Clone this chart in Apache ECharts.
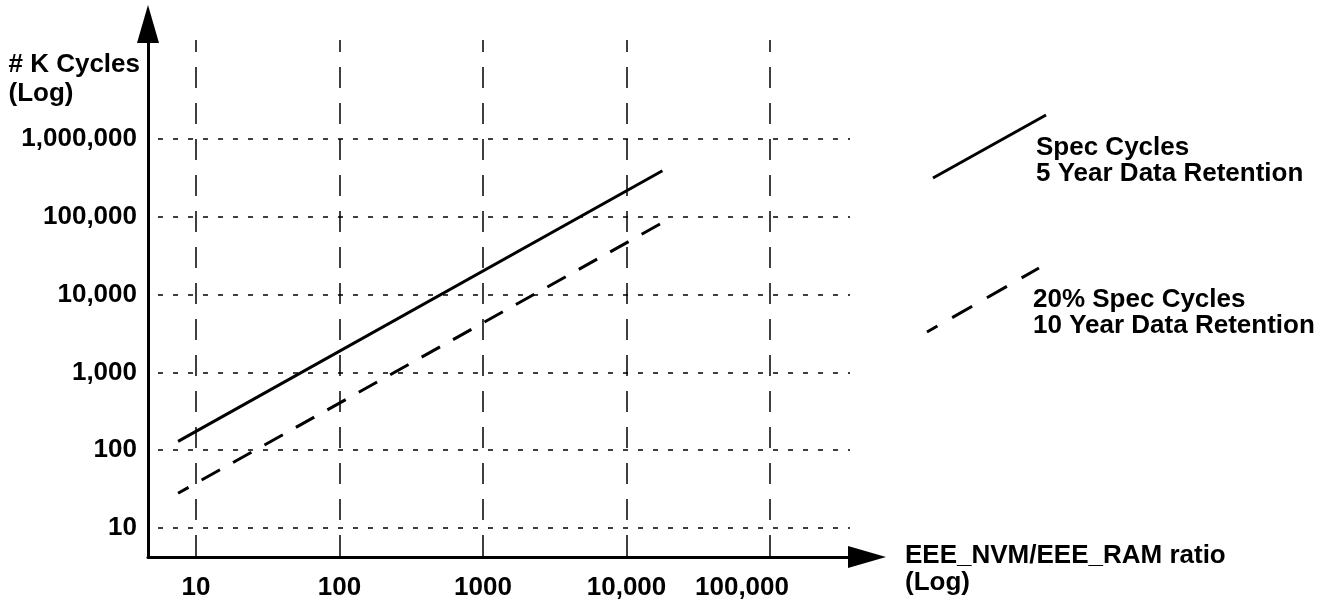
<!DOCTYPE html>
<html>
<head>
<meta charset="utf-8">
<title>K Cycles vs EEE_NVM/EEE_RAM ratio</title>
<script src="https://cdn.jsdelivr.net/npm/echarts@6/dist/echarts.min.js"></script>
<style>
html, body { margin: 0; padding: 0; background: #fff; }
#main { width: 1335px; height: 601px; }
</style>
</head>
<body>
<div id="main"></div>
<script>
// values
var ratioEnds = [7.5, 17800];          // EEE_NVM/EEE_RAM ratio at both ends of the lines
var specCycles = [130, 390000];        // # K cycles, 5 year data retention
var specCycles20 = [28, 84000];        // 20% spec cycles, 10 year data retention
var seriesNames = ['Spec Cycles\n5 Year Data Retention', '20% Spec Cycles\n10 Year Data Retention'];

var xTickValues = [10, 100, 1000, 10000, 100000];
var xTickLabels = ['10', '100', '1000', '10,000', '100,000'];
var yTickValues = [10, 100, 1000, 10000, 100000, 1000000];
var yTickLabels = ['10', '100', '1,000', '10,000', '100,000', '1,000,000'];

// axis extents (log axes), chosen so the decades fall where they do in the figure
var xMin = 4.63, xMax = 361000;
var yMin = 4.24, yMaxTop = 1.87e7, yMaxGrid = 3.17e6;

var FONT = '"Liberation Sans", Arial, Helvetica, sans-serif';

function pairs(xs, ys) {
    var out = [];
    for (var i = 0; i < xs.length; i++) out.push([xs[i], ys[i]]);
    return out;
}

function lookupLabel(values, labels, v) {
    for (var i = 0; i < values.length; i++) {
        if (Math.abs(Math.log10(v) - Math.log10(values[i])) < 1e-6) return labels[i];
    }
    return '';
}

var chart = echarts.init(document.getElementById('main'));

var option = {
    animation: false,
    backgroundColor: '#fff',
    grid: [
        { left: 148, right: 485, top: 40, bottom: 44 },   // vertical grid lines + axes
        { left: 148, right: 485, top: 100, bottom: 44 }   // horizontal grid lines + y labels
    ],
    xAxis: [{
        type: 'log',
        gridIndex: 0,
        min: xMin,
        max: xMax,
        name: '{a|EEE_NVM/EEE_RAM ratio}\n{a|(Log)}',
        nameLocation: 'end',
        nameGap: 55,
        nameTextStyle: {
            color: '#000', fontFamily: FONT, fontWeight: 'bold', fontSize: 26,
            lineHeight: 27, align: 'left', verticalAlign: 'middle',
            rich: {
                a: {
                    color: '#000', fontFamily: FONT, fontWeight: 'bold', fontSize: 26,
                    lineHeight: 27, padding: [25, 0, 0, 0]
                }
            }
        },
        axisLine: {
            show: true,
            symbol: ['none', 'triangle'],
            symbolSize: [22, 38],
            symbolOffset: [0, 17],
            lineStyle: { color: '#000', width: 3 }
        },
        axisTick: { show: false },
        axisLabel: {
            show: true,
            margin: 18,
            showMinLabel: false,
            showMaxLabel: false,
            color: '#000', fontFamily: FONT, fontWeight: 'bold', fontSize: 26,
            formatter: function (v) {
                var s = lookupLabel(xTickValues, xTickLabels, v);
                if (s === '100,000') return '{shift|' + s + '}';
                return s;
            },
            rich: {
                shift: {
                    color: '#000', fontFamily: FONT, fontWeight: 'bold', fontSize: 26,
                    padding: [0, 56, 0, 0]
                }
            }
        },
        splitLine: {
            show: true,
            showMinLine: false,
            showMaxLine: false,
            lineStyle: { color: '#000', width: 1.5, type: [21, 15], dashOffset: 9 }
        }
    }, {
        type: 'log',
        gridIndex: 1,
        min: xMin,
        max: xMax,
        show: false
    }],
    yAxis: [{
        type: 'log',
        gridIndex: 0,
        min: yMin,
        max: yMaxTop,
        name: '{a|# K Cycles}\n{a|(Log)}',
        nameLocation: 'end',
        nameGap: -10,
        nameTextStyle: {
            color: '#000', fontFamily: FONT, fontWeight: 'bold', fontSize: 26,
            lineHeight: 29, align: 'right', verticalAlign: 'top',
            rich: {
                a: {
                    color: '#000', fontFamily: FONT, fontWeight: 'bold', fontSize: 26,
                    lineHeight: 29, align: 'left', padding: [0, 8, 0, 0]
                }
            }
        },
        axisLine: {
            show: true,
            symbol: ['none', 'triangle'],
            symbolSize: [22, 38],
            symbolOffset: [0, 16],
            lineStyle: { color: '#000', width: 3 }
        },
        axisTick: { show: false },
        axisLabel: { show: false },
        splitLine: { show: false }
    }, {
        type: 'log',
        gridIndex: 1,
        min: yMin,
        max: yMaxGrid,
        axisLine: { show: false },
        axisTick: { show: false },
        axisLabel: {
            show: true,
            margin: 11,
            showMinLabel: false,
            showMaxLabel: false,
            color: '#000', fontFamily: FONT, fontWeight: 'bold', fontSize: 26,
            formatter: function (v) { return lookupLabel(yTickValues, yTickLabels, v); }
        },
        splitLine: {
            show: true,
            showMinLine: false,
            showMaxLine: false,
            lineStyle: { color: '#000', width: 1.5, type: [5, 10], dashOffset: 5 }
        }
    }],
    series: [{
        name: seriesNames[0],
        type: 'line',
        xAxisIndex: 0,
        yAxisIndex: 0,
        symbol: 'none',
        data: pairs(ratioEnds, specCycles),
        lineStyle: { color: '#000', width: 3 },
        z: 5
    }, {
        name: seriesNames[1],
        type: 'line',
        xAxisIndex: 0,
        yAxisIndex: 0,
        symbol: 'none',
        data: pairs(ratioEnds, specCycles20),
        lineStyle: { color: '#000', width: 3, type: [21, 15], dashOffset: 9 },
        z: 5
    }],
    // key, drawn as slanted line samples like the original
    graphic: [
        { type: 'line', shape: { x1: 933, y1: 178, x2: 1046, y2: 115 },
          style: { stroke: '#000', lineWidth: 3 } },
        { type: 'line', shape: { x1: 927, y1: 332, x2: 1039, y2: 268 },
          style: { stroke: '#000', lineWidth: 3, lineDash: [23, 17], lineDashOffset: 11 } },
        { type: 'text', left: 1036, top: 135,
          style: { text: seriesNames[0], fill: '#000', font: 'bold 26px ' + FONT, lineHeight: 26 } },
        { type: 'text', left: 1033, top: 287,
          style: { text: seriesNames[1], fill: '#000', font: 'bold 26px ' + FONT, lineHeight: 26 } }
    ]
};

chart.setOption(option);
window.onresize = function () { chart.resize(); };
</script>
</body>
</html>
